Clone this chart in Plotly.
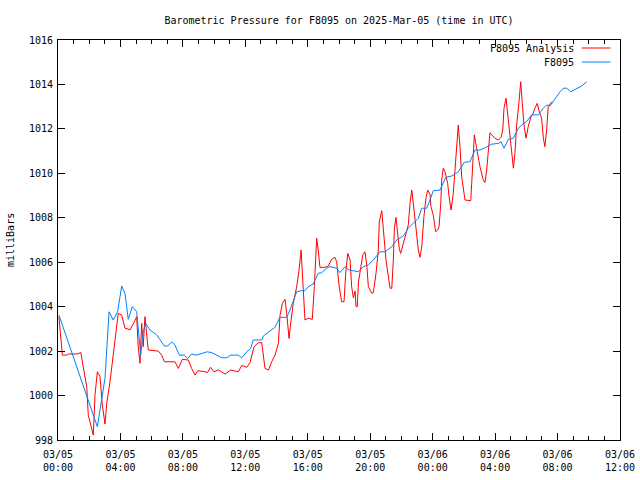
import plotly.graph_objects as go
import pandas as pd

# ---- data (hours since 2025-03-05 00:00 UTC, pressure in mbar) ----
analysis_hours = [0.06, 0.19, 0.28, 0.56, 0.66, 1.20, 1.47, 1.56, 1.73, 1.84, 1.94, 2.11, 2.26, 2.37, 2.52,
                  2.69, 2.84, 3.01, 3.12, 3.33, 3.54, 3.72, 3.86, 4.08, 4.29, 4.55, 4.61, 4.89, 5.04, 5.14,
                  5.25, 5.36, 5.46, 5.57, 5.68, 5.78, 6.43, 6.64, 6.81, 7.49, 7.71, 7.96, 8.35, 8.56, 8.78,
                  8.95, 9.42, 9.56, 9.78, 9.99, 10.27, 10.70, 11.06, 11.34, 11.55, 11.77, 12.09, 12.30, 12.56,
                  12.83, 13.05, 13.26, 13.48, 13.69, 13.90, 14.12, 14.22, 14.37, 14.54, 14.65, 14.80, 14.93,
                  15.07, 15.29, 15.44, 15.57, 15.71, 15.82, 16.03, 16.29, 16.42, 16.51, 16.57, 16.67, 16.78,
                  17.10, 17.32, 17.53, 17.74, 17.85, 18.00, 18.17, 18.32, 18.43, 18.56, 18.71, 18.81, 18.92,
                  19.03, 19.09, 19.17, 19.25, 19.41, 19.52, 19.66, 19.78, 19.88, 20.10, 20.20, 20.37, 20.52,
                  20.58, 20.74, 20.84, 21.01, 21.27, 21.38, 21.48, 21.55, 21.65, 21.76, 21.86, 21.95, 22.12,
                  22.34, 22.44, 22.55, 22.66, 22.81, 22.98, 23.08, 23.19, 23.30, 23.44, 23.57, 23.68, 23.83,
                  23.89, 24.04, 24.19, 24.32, 24.41, 24.52, 24.58, 24.68, 24.79, 24.96, 25.05, 25.18, 25.32,
                  25.43, 25.54, 25.64, 25.75, 25.86, 26.07, 26.35, 26.44, 26.50, 26.57, 26.67, 26.76, 26.89,
                  27.03, 27.24, 27.35, 27.46, 27.56, 27.67, 27.78, 27.99, 28.21, 28.38, 28.49, 28.57, 28.70,
                  28.78, 28.91, 29.00, 29.10, 29.17, 29.27, 29.38, 29.53, 29.64, 29.74, 29.85, 29.98, 30.12,
                  30.30, 30.44, 30.55, 30.70, 30.83, 30.98, 31.09, 31.19, 31.30, 31.40, 31.62]
analysis_mbar = [1003.55, 1002.5, 1001.82, 1001.82, 1001.87, 1001.87, 1001.93, 1001.52, 1000.70, 1000.40, 999.12,
                 998.60, 998.22, 1000.02, 1001.07, 1000.85, 999.57, 998.72, 999.65, 1000.62, 1001.82, 1003.1,
                 1003.7, 1003.62, 1003.03, 1002.98, 1002.95, 1003.32, 1003.55, 1002.2, 1001.45, 1003.25,
                 1002.2, 1003.55, 1002.80, 1002.05, 1002.0, 1001.82, 1001.52, 1001.52, 1001.22, 1001.63,
                 1001.6, 1001.22, 1000.92, 1001.12, 1001.07, 1001.03, 1001.27, 1001.07, 1001.15, 1000.97,
                 1001.15, 1001.12, 1001.07, 1001.35, 1001.27, 1001.48, 1002.2, 1002.38, 1002.38, 1001.22,
                 1001.15, 1001.52, 1001.82, 1002.35, 1003.6, 1004.15, 1004.33, 1003.70, 1002.57, 1003.40,
                 1004.15, 1004.90, 1005.65, 1006.55, 1004.98, 1003.4, 1003.48, 1003.43, 1004.90, 1005.95,
                 1007.08, 1006.55, 1005.77, 1005.77, 1005.83, 1006.13, 1006.22, 1006.02, 1004.97, 1004.22,
                 1004.22, 1005.5, 1006.40, 1006.10, 1004.90, 1004.40, 1004.70, 1004.00, 1004.00, 1005.12,
                 1005.95, 1006.32, 1006.47, 1005.87, 1004.90, 1004.60, 1004.63, 1005.5, 1006.55, 1007.82,
                 1008.32, 1007.6, 1006.10, 1004.83, 1004.83, 1006.1, 1007.53, 1008.02, 1007.30, 1006.62,
                 1006.40, 1006.85, 1007.45, 1007.68, 1008.65, 1009.25, 1008.35, 1007.0, 1006.55, 1006.22,
                 1006.70, 1008.05, 1008.88, 1009.25, 1009.05, 1008.50, 1008.12, 1007.37, 1007.45, 1007.60,
                 1008.65, 1009.70, 1010.23, 1010.07, 1009.55, 1008.95, 1008.35, 1009.10, 1010.30, 1011.5,
                 1012.17, 1011.2, 1009.85, 1008.80, 1008.77, 1008.77, 1009.55, 1010.75, 1011.73, 1011.35,
                 1010.75, 1010.30, 1009.70, 1009.58, 1010.15, 1011.05, 1011.83, 1011.73, 1011.58, 1011.5,
                 1011.62, 1011.95, 1012.93, 1013.38, 1012.85, 1012.10, 1011.5, 1010.90, 1010.23, 1010.9,
                 1012.17, 1013.22, 1014.12, 1013.15, 1012.17, 1011.58, 1012.10, 1012.55, 1012.70, 1012.93,
                 1013.15, 1012.78, 1012.48, 1011.58, 1011.20, 1011.95, 1013.0, 1013.22, 1013.45]

station_hours = [0.06, 2.52, 3.01, 3.27, 3.54, 3.82, 4.08, 4.29, 4.50, 4.76, 5.04, 5.19, 5.30, 5.46, 5.62, 5.89,
                 6.32, 6.81, 7.03, 7.28, 7.49, 7.77, 8.09, 8.31, 8.56, 8.88, 9.56, 9.85, 10.49, 10.81, 11.06,
                 11.55, 11.77, 12.09, 12.34, 12.51, 13.05, 13.15, 13.58, 13.90, 14.22, 14.65, 14.86, 15.07,
                 15.29, 15.61, 15.82, 16.03, 16.35, 16.67, 16.89, 17.21, 17.42, 17.85, 18.06, 18.38, 18.64,
                 19.03, 19.24, 19.56, 19.88, 20.20, 20.63, 20.95, 21.38, 21.70, 21.91, 22.12, 22.44, 22.76,
                 23.08, 23.30, 23.62, 23.83, 24.04, 24.47, 24.84, 25.22, 25.64, 26.03, 26.39, 26.71, 27.03,
                 27.35, 27.78, 28.21, 28.38, 28.57, 28.85, 29.17, 29.49, 29.70, 30.02, 30.34, 30.77, 31.09,
                 31.30, 31.52, 31.84, 32.16, 32.37, 32.59, 32.84, 33.23, 33.55, 33.87]
station_mbar = [1003.62, 998.6, 1000.77, 1003.77, 1003.4, 1003.77, 1004.93, 1004.6, 1003.43, 1004.0, 1003.77,
                1002.57, 1001.82, 1002.87, 1003.25, 1002.95, 1002.73, 1002.23, 1002.23, 1002.42, 1002.27,
                1001.82, 1001.82, 1001.67, 1001.87, 1001.82, 1001.97, 1001.93, 1001.70, 1001.70, 1001.82,
                1001.82, 1001.70, 1001.97, 1002.12, 1002.5, 1002.5, 1002.68, 1002.92, 1003.07, 1003.52,
                1003.52, 1003.85, 1004.3, 1004.67, 1004.72, 1004.72, 1004.9, 1005.02, 1005.5, 1005.53,
                1005.73, 1005.80, 1005.73, 1005.53, 1005.80, 1005.65, 1005.6, 1005.57, 1005.80, 1005.88,
                1006.1, 1006.47, 1006.47, 1006.70, 1007.0, 1007.08, 1007.18, 1007.53, 1007.75, 1007.98,
                1008.43, 1008.43, 1008.8, 1009.22, 1009.25, 1009.82, 1009.88, 1010.07, 1010.50, 1010.52,
                1011.05, 1011.05, 1011.15, 1011.31, 1011.35, 1011.42, 1011.13, 1011.53, 1011.58, 1012.03,
                1012.18, 1012.33, 1012.63, 1012.63, 1012.93, 1013.08, 1013.03, 1013.38, 1013.67, 1013.83,
                1013.83, 1013.67, 1013.83, 1013.93, 1014.12]

series_names = ["F8095 Analysis", "F8095"]
series_colors = ["#ff0000", "#0080ff"]
title_text = "Barometric Pressure for F8095 on 2025-Mar-05 (time in UTC)"
y_label = "milliBars"
start = pd.Timestamp("2025-03-05 00:00")
end = pd.Timestamp("2025-03-06 12:00")

FONT = "DejaVu Sans Mono"
FIG_W, FIG_H = 640, 480

def to_time(hours):
    return [start + pd.Timedelta(hours=h) for h in hours]

fig = go.Figure()
fig.add_trace(go.Scatter(x=to_time(analysis_hours), y=analysis_mbar, mode="lines",
                         name=series_names[0], line=dict(color=series_colors[0], width=1)))
fig.add_trace(go.Scatter(x=to_time(station_hours), y=station_mbar, mode="lines",
                         name=series_names[1], line=dict(color=series_colors[1], width=1)))

axis_common = dict(showline=True, linecolor="black", linewidth=1, mirror="ticks",
                   showgrid=False, zeroline=False, ticks="inside", tickcolor="black",
                   tickfont=dict(family=FONT, size=10, color="black"))

fig.update_xaxes(type="date", range=[start, end], dtick=4 * 3600 * 1000, tick0=start,
                 tickformat="%m/%d<br>%H:%M", ticklen=7, ticklabelstandoff=5,
                 minor=dict(ticks="inside", ticklen=4, dtick=3600 * 1000, tick0=start, tickcolor="black",
                            showgrid=False),
                 **axis_common)
fig.update_yaxes(range=[998, 1016], dtick=2, tick0=998, ticklen=7, ticklabelstandoff=2, **axis_common)

# legend drawn gnuplot-style: right-aligned text followed by the line sample
legend_rows = [0.98, 0.945]
for name, color, yy in zip(series_names, series_colors, legend_rows):
    fig.add_annotation(x=0.922, y=yy, xref="paper", yref="paper", text=name, showarrow=False,
                       xanchor="right", yanchor="middle", font=dict(family=FONT, size=10, color="black"))
    fig.add_shape(type="line", xref="paper", yref="paper", x0=0.932, x1=0.983, y0=yy, y1=yy,
                  line=dict(color=color, width=1))

fig.add_annotation(x=-0.0854, y=0.5, xref="paper", yref="paper", text=y_label, showarrow=False,
                   textangle=-90, xanchor="center", yanchor="middle",
                   font=dict(family=FONT, size=10, color="black"))

fig.update_layout(
    width=FIG_W, height=FIG_H,
    margin=dict(l=58, r=20, t=40, b=40, autoexpand=False),
    paper_bgcolor="white", plot_bgcolor="white",
    showlegend=False,
    title=dict(text=title_text, x=0.5, xref="paper", xanchor="center", y=1 - 20 / FIG_H, yanchor="middle",
               font=dict(family=FONT, size=10, color="black")),
)

fig.write_html("out.html", config={"displayModeBar": False},
               post_script="document.body.style.margin='0';document.body.style.overflow='hidden';")
